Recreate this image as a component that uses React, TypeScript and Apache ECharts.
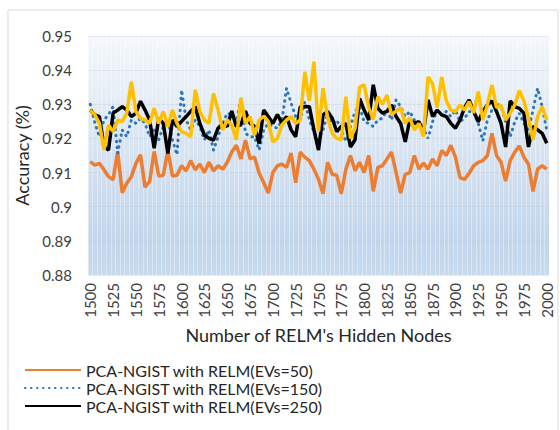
import React, { useEffect, useRef } from "react";
import * as echarts from "echarts";

const categories: string[] = [
  "1500","1505","1510","1515","1520","1525","1530","1535","1540","1545",
  "1550","1555","1560","1565","1570","1575","1580","1585","1590","1595",
  "1600","1605","1610","1615","1620","1625","1630","1635","1640","1645",
  "1650","1655","1660","1665","1670","1675","1680","1685","1690","1695",
  "1700","1705","1710","1715","1720","1725","1730","1735","1740","1745",
  "1750","1755","1760","1765","1770","1775","1780","1785","1790","1795",
  "1800","1805","1810","1815","1820","1825","1830","1835","1840","1845",
  "1850","1855","1860","1865","1870","1875","1880","1885","1890","1895",
  "1900","1905","1910","1915","1920","1925","1930","1935","1940","1945",
  "1950","1955","1960","1965","1970","1975","1980","1985","1990","1995",
  "2000",
];

const evs50: number[] = [
  0.9132,0.9122,0.9127,0.9108,0.9088,0.9079,0.9162,0.9041,0.9069,0.9088,
  0.9127,0.9152,0.9057,0.9074,0.9162,0.9090,0.9092,0.9165,0.9090,0.9092,
  0.9120,0.9105,0.9135,0.9108,0.9125,0.9100,0.9130,0.9105,0.9120,0.9110,
  0.9130,0.9160,0.9180,0.9140,0.9195,0.9140,0.9145,0.9098,0.9070,0.9040,
  0.9100,0.9120,0.9125,0.9115,0.9157,0.9070,0.9160,0.9145,0.9135,0.9110,
  0.9080,0.9038,0.9130,0.9095,0.9092,0.9038,0.9110,0.9150,0.9105,0.9130,
  0.9100,0.9150,0.9045,0.9115,0.9120,0.9140,0.9160,0.9100,0.9040,0.9095,
  0.9100,0.9150,0.9110,0.9128,0.9110,0.9140,0.9120,0.9165,0.9150,0.9180,
  0.9145,0.9085,0.9080,0.9098,0.9120,0.9130,0.9135,0.9150,0.9215,0.9150,
  0.9130,0.9075,0.9135,0.9160,0.9178,0.9145,0.9125,0.9045,0.9110,0.9120,
  0.9110,
];

const evs150: number[] = [
  0.9300,0.9245,0.9205,0.9254,0.9270,0.9293,0.9157,0.9225,0.9205,0.9254,
  0.9244,0.9259,0.9244,0.9205,0.9225,0.9196,0.9235,0.9254,0.9196,0.9152,
  0.9342,0.9254,0.9225,0.9254,0.9235,0.9196,0.9225,0.9166,0.9205,0.9244,
  0.9274,0.9269,0.9244,0.9322,0.9215,0.9205,0.9205,0.9166,0.9225,0.9244,
  0.9235,0.9230,0.9254,0.9347,0.9303,0.9264,0.9254,0.9308,0.9254,0.9220,
  0.9196,0.9225,0.9274,0.9244,0.9254,0.9225,0.9191,0.9235,0.9279,0.9293,
  0.9249,0.9244,0.9235,0.9254,0.9259,0.9283,0.9254,0.9313,0.9293,0.9264,
  0.9279,0.9254,0.9235,0.9230,0.9200,0.9249,0.9283,0.9269,0.9279,0.9264,
  0.9283,0.9249,0.9259,0.9279,0.9279,0.9244,0.9193,0.9254,0.9283,0.9303,
  0.9293,0.9249,0.9205,0.9249,0.9274,0.9244,0.9225,0.9283,0.9347,0.9293,
  0.9225,
];

const evs250: number[] = [
  0.9283,0.9269,0.9264,0.9176,0.9166,0.9274,0.9283,0.9293,0.9283,0.9264,
  0.9274,0.9309,0.9283,0.9254,0.9171,0.9259,0.9244,0.9156,0.9254,0.9235,
  0.9250,0.9264,0.9279,0.9293,0.9244,0.9210,0.9200,0.9195,0.9230,0.9244,
  0.9235,0.9280,0.9235,0.9240,0.9280,0.9244,0.9235,0.9185,0.9283,0.9264,
  0.9244,0.9270,0.9244,0.9264,0.9225,0.9205,0.9293,0.9293,0.9293,0.9225,
  0.9166,0.9269,0.9279,0.9259,0.9220,0.9235,0.9244,0.9175,0.9196,0.9317,
  0.9283,0.9254,0.9357,0.9288,0.9274,0.9279,0.9298,0.9264,0.9244,0.9190,
  0.9254,0.9244,0.9249,0.9220,0.9313,0.9264,0.9283,0.9269,0.9264,0.9244,
  0.9230,0.9254,0.9290,0.9313,0.9279,0.9249,0.9279,0.9298,0.9310,0.9279,
  0.9244,0.9175,0.9310,0.9293,0.9288,0.9274,0.9175,0.9235,0.9225,0.9215,
  0.9186,
];

const evs350: number[] = [
  0.9283,0.9269,0.9244,0.9166,0.9239,0.9220,0.9254,0.9249,0.9274,0.9366,
  0.9279,0.9259,0.9254,0.9244,0.9288,0.9244,0.9279,0.9235,0.9283,0.9244,
  0.9220,0.9215,0.9205,0.9342,0.9279,0.9254,0.9244,0.9332,0.9283,0.9225,
  0.9254,0.9239,0.9196,0.9318,0.9244,0.9264,0.9210,0.9254,0.9265,0.9250,
  0.9190,0.9200,0.9240,0.9254,0.9264,0.9244,0.9254,0.9395,0.9310,0.9425,
  0.9220,0.9347,0.9260,0.9215,0.9200,0.9196,0.9322,0.9200,0.9230,0.9350,
  0.9357,0.9290,0.9256,0.9322,0.9300,0.9327,0.9270,0.9280,0.9290,0.9244,
  0.9260,0.9225,0.9244,0.9205,0.9380,0.9360,0.9290,0.9380,0.9310,0.9283,
  0.9279,0.9298,0.9283,0.9308,0.9274,0.9337,0.9254,0.9298,0.9357,0.9290,
  0.9298,0.9254,0.9274,0.9298,0.9340,0.9310,0.9259,0.9196,0.9264,0.9293,
  0.9254,
];

const seriesNames: string[] = [
  "PCA-NGIST with RELM(EVs=50)",
  "PCA-NGIST with RELM(EVs=150)",
  "PCA-NGIST with RELM(EVs=250)",
  "PCA-NGIST with RELM(EVs=350)",
];

const yTicks = { min: 0.88, max: 0.95, interval: 0.01 };

export default function App() {
  const ref = useRef<HTMLDivElement>(null);
  useEffect(() => {
    if (!ref.current) return;
    const chart = echarts.init(ref.current, null, { renderer: "svg" });
    const font = "Lato, 'Liberation Sans', sans-serif";
    chart.setOption({
      animation: false,
      backgroundColor: "#ffffff",
      textStyle: { fontFamily: font },
      graphic: [
        {
          type: "rect",
          shape: { x: 8, y: 10, width: 550, height: 430 },
          style: { fill: "none", stroke: "#d9d9d9", lineWidth: 1 },
          silent: true,
          z: -10,
        },
      ],
      grid: {
        left: 88,
        right: 11,
        top: 36,
        bottom: 155,
        show: true,
        borderWidth: 0,
        backgroundColor: new echarts.graphic.LinearGradient(0, 0, 0, 1, [
          { offset: 0, color: "#f4f7fb" },
          { offset: 0.25, color: "#e5edf6" },
          { offset: 0.6, color: "#d0dff0" },
          { offset: 0.85, color: "#c2d6eb" },
          { offset: 1, color: "#c7daee" },
        ]),
      },
      legend: {
        data: seriesNames.slice(0, 3),
        orient: "vertical",
        left: 24,
        top: 361,
        bottom: 0,
        padding: 0,
        itemWidth: 56,
        itemHeight: 12,
        itemGap: 0,
        itemStyle: { opacity: 0 },
        textStyle: { fontFamily: font, fontSize: 16, color: "#262626", lineHeight: 18 },
      },
      xAxis: {
        type: "category",
        data: categories,
        boundaryGap: true,
        name: "Number of RELM's Hidden Nodes",
        nameLocation: "middle",
        nameGap: 49,
        nameTextStyle: { fontFamily: font, fontSize: 18, color: "#262626" },
        axisLine: { show: false },
        axisTick: { show: false },
        axisLabel: {
          interval: 4,
          rotate: 90,
          margin: 8,
          fontSize: 15,
          color: "#404040",
          fontFamily: font,
        },
        splitLine: {
          show: true,
          interval: 0,
          lineStyle: { color: "rgba(255,255,255,0.35)", width: 1 },
        },
      },
      yAxis: {
        type: "value",
        min: yTicks.min,
        max: yTicks.max,
        interval: yTicks.interval,
        name: "Accuracy (%)",
        nameLocation: "middle",
        nameGap: 49,
        nameTextStyle: { fontFamily: font, fontSize: 18, color: "#262626" },
        axisLine: { show: false },
        axisTick: { show: false },
        axisLabel: {
          margin: 16,
          fontSize: 15,
          color: "#404040",
          fontFamily: font,
          formatter: (v: number) => String(parseFloat(v.toFixed(2))),
        },
        splitLine: { show: true, lineStyle: { color: "rgba(190,200,215,0.35)", width: 1 } },
      },
      series: [
        {
          name: seriesNames[0],
          type: "line",
          data: evs50,
          symbol: "none",
          itemStyle: { color: "#ed7d31" },
          lineStyle: { color: "#ed7d31", width: 3.5 },
          z: 2,
        },
        {
          name: seriesNames[1],
          type: "line",
          data: evs150,
          symbol: "none",
          itemStyle: { color: "#2e75b6" },
          lineStyle: { color: "#2e75b6", width: 3, type: [0.5, 5.5], cap: "round" },
          z: 3,
        },
        {
          name: seriesNames[2],
          type: "line",
          data: evs250,
          symbol: "none",
          itemStyle: { color: "#000000" },
          lineStyle: { color: "#000000", width: 3.5 },
          z: 4,
        },
        {
          name: seriesNames[3],
          type: "line",
          data: evs350,
          symbol: "none",
          itemStyle: { color: "#ffc000" },
          lineStyle: { color: "#ffc000", width: 3.5 },
          z: 5,
        },
      ],
    });
    return () => chart.dispose();
  }, []);
  return <div ref={ref} style={{ width: 560, height: 430, position: "absolute", left: 0, top: 0 }} />;
}
